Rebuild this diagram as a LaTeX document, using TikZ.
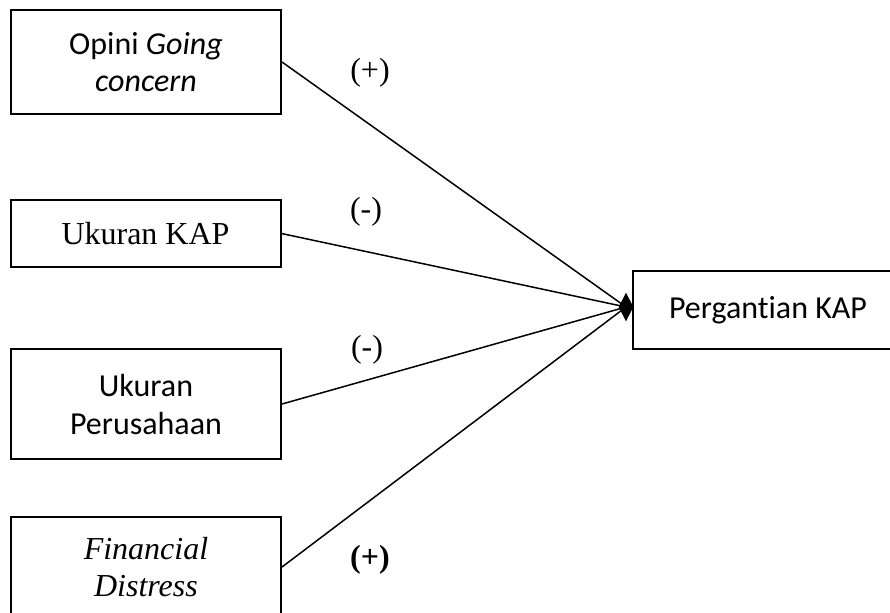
\documentclass[tikz,border=0pt]{standalone}
\usepackage{fontspec}
\setmainfont{Liberation Serif}
\newfontfamily\calibri[Ligatures=NoCommon]{Carlito}
\usetikzlibrary{shapes.geometric}
\begin{document}
\begin{tikzpicture}[x=0.5pt,y=-0.5pt,
  kotak/.style={rectangle, draw=black, line width=1pt, inner sep=0pt, minimum width=135pt, align=center, font=\fontsize{16}{18.5}\selectfont},
  garis/.style={draw=black, line width=0.75pt},
  tanda/.style={font=\fontsize{16}{18.5}\selectfont}]
\clip (0,0) rectangle (890,612);
% variabel bebas
\node [kotak, minimum height=52pt, font=\calibri\fontsize{16}{18.5}\selectfont] (opini) at (146,62) {Opini \textit{Going}\\\textit{concern}};
\node [kotak, minimum height=33.5pt] (ukurankap) at (145.5,233.5) {Ukuran KAP};
\node [kotak, minimum height=55pt, font=\calibri\fontsize{16}{19}\selectfont] (ukuranper) at (146,404) {Ukuran\\Perusahaan};
\node [kotak, minimum height=50pt] (distress) at (146,567) {\textit{Financial}\\\textit{Distress}};
% variabel terikat
\node [kotak, minimum height=39pt, font=\calibri\fontsize{16}{18.5}\selectfont] (pergantian) at (768,310) {Pergantian KAP};
\node [diamond, fill=black, inner sep=0pt, minimum width=7.5pt, minimum height=14.5pt] (hub) at (626,307) {};
\draw [garis] (opini.east) -- (hub.center);
\draw [garis] (ukurankap.east) -- (hub.center);
\draw [garis] (ukuranper.east) -- (hub.center);
\draw [garis] (distress.east) -- (hub.center);
% tanda hipotesis
\node [tanda] (h1) at (370,73) {(+)};
\node [tanda] (h2) at (366,212) {(-)};
\node [tanda] (h3) at (367,350) {(-)};
\node [tanda, font=\bfseries\fontsize{16}{18.5}\selectfont] (h4) at (370,560) {(+)};
\end{tikzpicture}
\end{document}
